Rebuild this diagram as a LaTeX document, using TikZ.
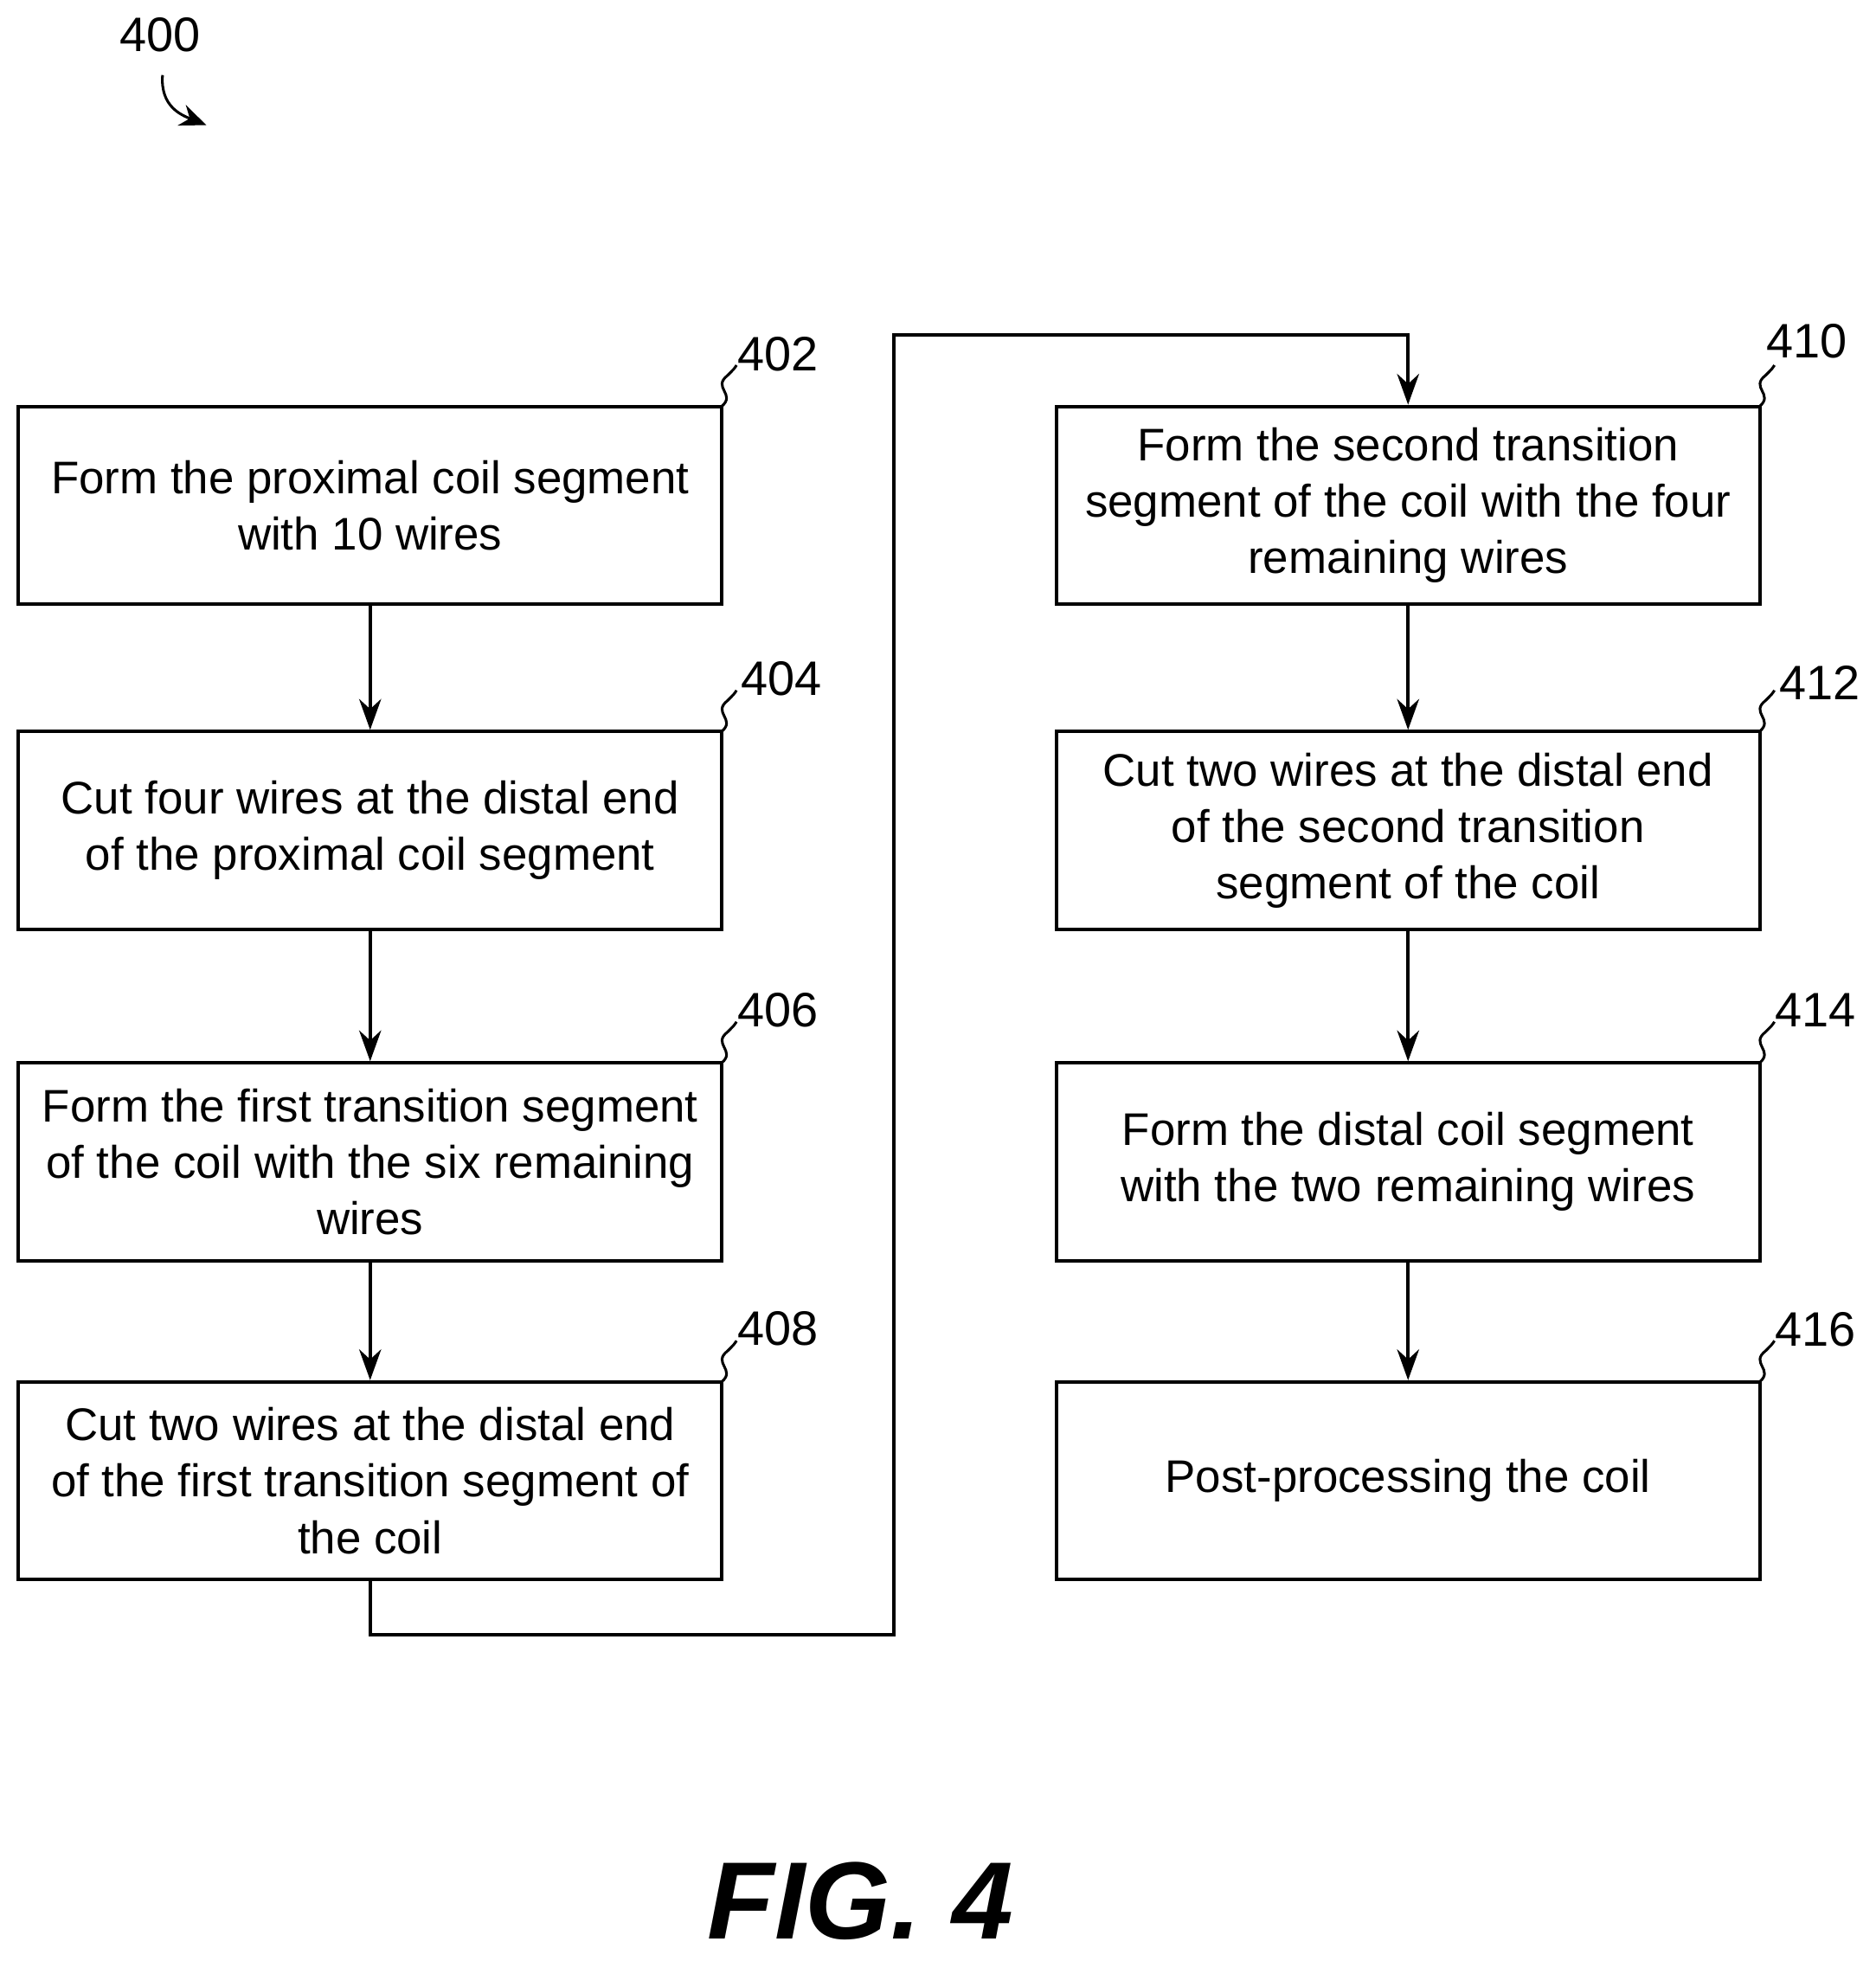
\documentclass[tikz,border=0pt]{standalone}
\usepackage{fontspec}
\setmainfont{Liberation Sans}
\usetikzlibrary{arrows.meta}
\begin{document}
\begin{tikzpicture}[x=0.01cm,y=-0.01cm,
 box/.style={draw,line width=0.8pt,minimum width=5.62cm,minimum height=1.58cm,align=center,font=\fontsize{10.4}{12.8}\selectfont,inner sep=0pt},
 lab/.style={font=\fontsize{11}{13}\selectfont},
 arr/.style={-{Stealth[length=7pt,width=5pt]},line width=0.8pt},
 sq/.style={line width=0.6pt}]
\useasboundingbox (0,0) rectangle (1500,1568);
\node[box] (b402) at (296,404) {Form the proximal coil segment\\with 10 wires};
\node[box] (b404) at (296,664) {Cut four wires at the distal end\\of the proximal coil segment};
\node[box] (b406) at (296,929) {Form the first transition segment\\of the coil with the six remaining\\wires};
\node[box] (b408) at (296,1184) {Cut two wires at the distal end\\of the first transition segment of\\the coil};
\node[box] (b410) at (1126,404) {Form the second transition\\segment of the coil with the four\\remaining wires};
\node[box] (b412) at (1126,664) {Cut two wires at the distal end\\of the second transition\\segment of the coil};
\node[box] (b414) at (1126,929) {Form the distal coil segment\\with the two remaining wires};
\node[box] (b416) at (1126,1184) {Post-processing the coil};
\draw[arr] (b402) -- (b404);
\draw[arr] (b404) -- (b406);
\draw[arr] (b406) -- (b408);
\draw[arr] (b410) -- (b412);
\draw[arr] (b412) -- (b414);
\draw[arr] (b414) -- (b416);
\coordinate (c1) at (296,1307);
\coordinate (c2) at (715,1307);
\coordinate (c3) at (715,268);
\coordinate (c4) at (1126,268);
\draw[arr] (b408.south) -- (c1) -- (c2) -- (c3) -- (c4) -- (b410.north);
\foreach \n/\x/\y/\bx/\by in {402/622/283/577/325,404/625/543/577/585,406/622/808/577/850,408/622/1062/577/1105,410/1445/273/1407/325,412/1455/546/1407/585,414/1452/808/1407/850,416/1452/1063/1407/1105}{
 \node[lab] (l\n) at (\x,\y) {\n};
 \draw[sq] (\bx,\by) .. controls (\bx+12,\by-10) and (\bx-8,\by-15) .. (\bx+5,\by-25) .. controls (\bx+10,\by-30) .. (\bx+12,\by-33);
}
\node[lab] (l400) at (128,28) {400};
\coordinate (a400) at (165,100);
\draw[-{Stealth[length=6pt,width=5pt]},line width=0.6pt] (130,60) .. controls (128,85) and (145,92) .. (a400);
\node[font=\fontsize{25}{28}\bfseries\itshape\selectfont] (fig) at (688,1520) {FIG. 4};
\end{tikzpicture}
\end{document}
